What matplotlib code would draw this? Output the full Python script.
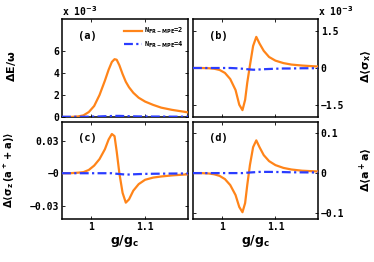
import matplotlib
matplotlib.use('Agg')
import matplotlib.pyplot as plt
import numpy as np

#%% Datos
g = [0.945, 0.96, 0.975, 0.985, 0.995, 1.005, 1.015, 1.025, 1.032, 1.038, 1.043,
     1.047, 1.052, 1.058, 1.064, 1.07, 1.078, 1.088, 1.10, 1.115, 1.13, 1.15, 1.18]

# (a) Delta E / omega  (x 1e-3)
dE_2 = [0.0, 0.0, 0.05, 0.15, 0.45, 1.0, 2.0, 3.3, 4.3, 5.0, 5.25,
        5.2, 4.7, 3.9, 3.2, 2.7, 2.2, 1.75, 1.4, 1.1, 0.85, 0.65, 0.42]
dE_4 = [0.02, 0.02, 0.02, 0.02, 0.03, 0.04, 0.05, 0.07, 0.08, 0.09, 0.1,
        0.1, 0.1, 0.09, 0.08, 0.07, 0.06, 0.05, 0.05, 0.04, 0.04, 0.03, 0.03]

# (b) Delta <sigma_x>  (x 1e-3)
dsx_2 = [0.0, 0.0, -0.01, -0.03, -0.08, -0.2, -0.45, -0.9, -1.5, -1.72, -1.3,
         -0.6, 0.1, 0.9, 1.27, 1.0, 0.7, 0.45, 0.3, 0.2, 0.14, 0.1, 0.06]
dsx_4 = [0.0, 0.0, 0.0, 0.0, 0.0, 0.0, 0.0, -0.01, -0.02, -0.03, -0.04,
         -0.05, -0.06, -0.07, -0.07, -0.06, -0.05, -0.04, -0.03, -0.02, -0.02, -0.01, -0.01]

# (c) Delta <sigma_z (a+ + a)>
dsz_2 = [0.0, 0.0, 0.0005, 0.001, 0.003, 0.007, 0.013, 0.022, 0.031, 0.036, 0.034,
         0.02, 0.0, -0.018, -0.027, -0.024, -0.016, -0.01, -0.006, -0.004, -0.003, -0.002, -0.001]
dsz_4 = [0.0, 0.0, 0.0, 0.0, 0.0, 0.0, 0.0, 0.0, 0.0, 0.0, -0.0003,
         -0.0005, -0.0007, -0.001, -0.0012, -0.0012, -0.001, -0.0008, -0.0006, -0.0005, -0.0004, -0.0003, -0.0002]

# (d) Delta <a+ a>
dn_2 = [0.0, 0.0, -0.001, -0.003, -0.007, -0.015, -0.03, -0.055, -0.085, -0.098, -0.075,
        -0.03, 0.02, 0.065, 0.082, 0.065, 0.045, 0.03, 0.02, 0.013, 0.009, 0.006, 0.004]
dn_4 = [0.0, 0.0, 0.0, 0.0, 0.0, 0.0, 0.0, 0.0, 0.0, 0.0, 0.0005,
        0.001, 0.0015, 0.002, 0.0025, 0.003, 0.003, 0.003, 0.0028, 0.0025, 0.002, 0.0018, 0.0015]

#%% Figura
W, H = 374, 262
fig = plt.figure(figsize=(W / 100, H / 100), dpi=100)
plt.rcParams['font.family'] = 'DejaVu Sans Mono'
plt.rcParams['font.weight'] = 'bold'
plt.rcParams['mathtext.default'] = 'bf'

naranja = '#ff8419'
azul = '#2a3cff'

def caja(x0, y0, x1, y1):
    return [x0 / W, 1 - y1 / H, (x1 - x0) / W, (y1 - y0) / H]

ax_a = fig.add_axes(caja(62, 19, 188, 117))
ax_b = fig.add_axes(caja(193, 19, 318, 117))
ax_c = fig.add_axes(caja(62, 122, 188, 219))
ax_d = fig.add_axes(caja(193, 122, 318, 219))

paneles = [
    (ax_a, dE_2, dE_4, (0, 8.9), [0, 2, 4, 6], ['0', '2', '4', '6'], '(a)'),
    (ax_b, dsx_2, dsx_4, (-2.0, 2.0), [-1.5, 0, 1.5], ['\u22121.5', '0', '1.5'], '(b)'),
    (ax_c, dsz_2, dsz_4, (-0.042, 0.047), [-0.03, 0, 0.03], ['\u22120.03', '\u22120', '0.03'], '(c)'),
    (ax_d, dn_2, dn_4, (-0.115, 0.128), [-0.1, 0, 0.1], ['\u22120.1', '0', '0.1'], '(d)'),
]

for ax, y2, y4, ylim, yt, ytl, tag in paneles:
    ax.plot(g, y2, color=naranja, lw=1.6, label=r'N$_{\mathrm{FR-MPE}}$=2', zorder=3)
    ax.plot(g, y4, color=azul, lw=1.6, ls=(0, (4, 1.5, 1, 1.5)), label=r'N$_{\mathrm{FR-MPE}}$=4', zorder=4)
    ax.set_xlim(0.945, 1.18)
    ax.set_ylim(*ylim)
    ax.set_yticks(yt)
    ax.set_yticklabels(ytl)
    ax.set_xticks([1, 1.1])
    ax.tick_params(direction='in', top=True, right=True, length=2.5, width=0.6,
                   labelsize=7, pad=2)
    for s in ax.spines.values():
        s.set_linewidth(1.1)
    ax.text(0.13, 0.80, tag, transform=ax.transAxes, fontsize=7.5, fontweight='bold')

for ax in (ax_a, ax_b):
    ax.set_xticklabels([])
for ax in (ax_c, ax_d):
    ax.set_xticklabels(['1', '1.1'])
    ax.set_xlabel(r'g/g$_\mathrm{c}$', fontsize=9, fontweight='bold',
                  family='DejaVu Sans', labelpad=1)
for ax in (ax_b, ax_d):
    ax.yaxis.tick_right()
    ax.tick_params(left=True, labelleft=False, labelright=True)

# factor x 10^-3
ax_a.text(0.0, 1.03, r'x 10$^{-3}$', transform=ax_a.transAxes, fontsize=7)
ax_b.text(1.0, 1.03, r'x 10$^{-3}$', transform=ax_b.transAxes, fontsize=7)

ax_a.legend(loc='upper right', frameon=False, fontsize=5, handlelength=2.6,
            borderaxespad=0.2, labelspacing=0.5, handletextpad=0.3,
            bbox_to_anchor=(1.0, 0.97))

# etiquetas de los ejes y
opts = dict(rotation=90, ha='center', va='center', fontsize=8, family='DejaVu Sans')
fig.text(12 / W, 1 - 66 / H, r'$\Delta$E/$\omega$', **opts)
fig.text(9 / W, 1 - 170 / H, r'$\Delta\langle\sigma_z\,(a^+ + a)\rangle$',
         **{**opts, 'fontsize': 7.2})
fig.text(366 / W, 1 - 66 / H, r'$\Delta\langle\sigma_x\rangle$', **opts)
fig.text(366 / W, 1 - 170 / H, r'$\Delta\langle a^+a\rangle$', **opts)

fig.savefig('out.png', dpi=100)
